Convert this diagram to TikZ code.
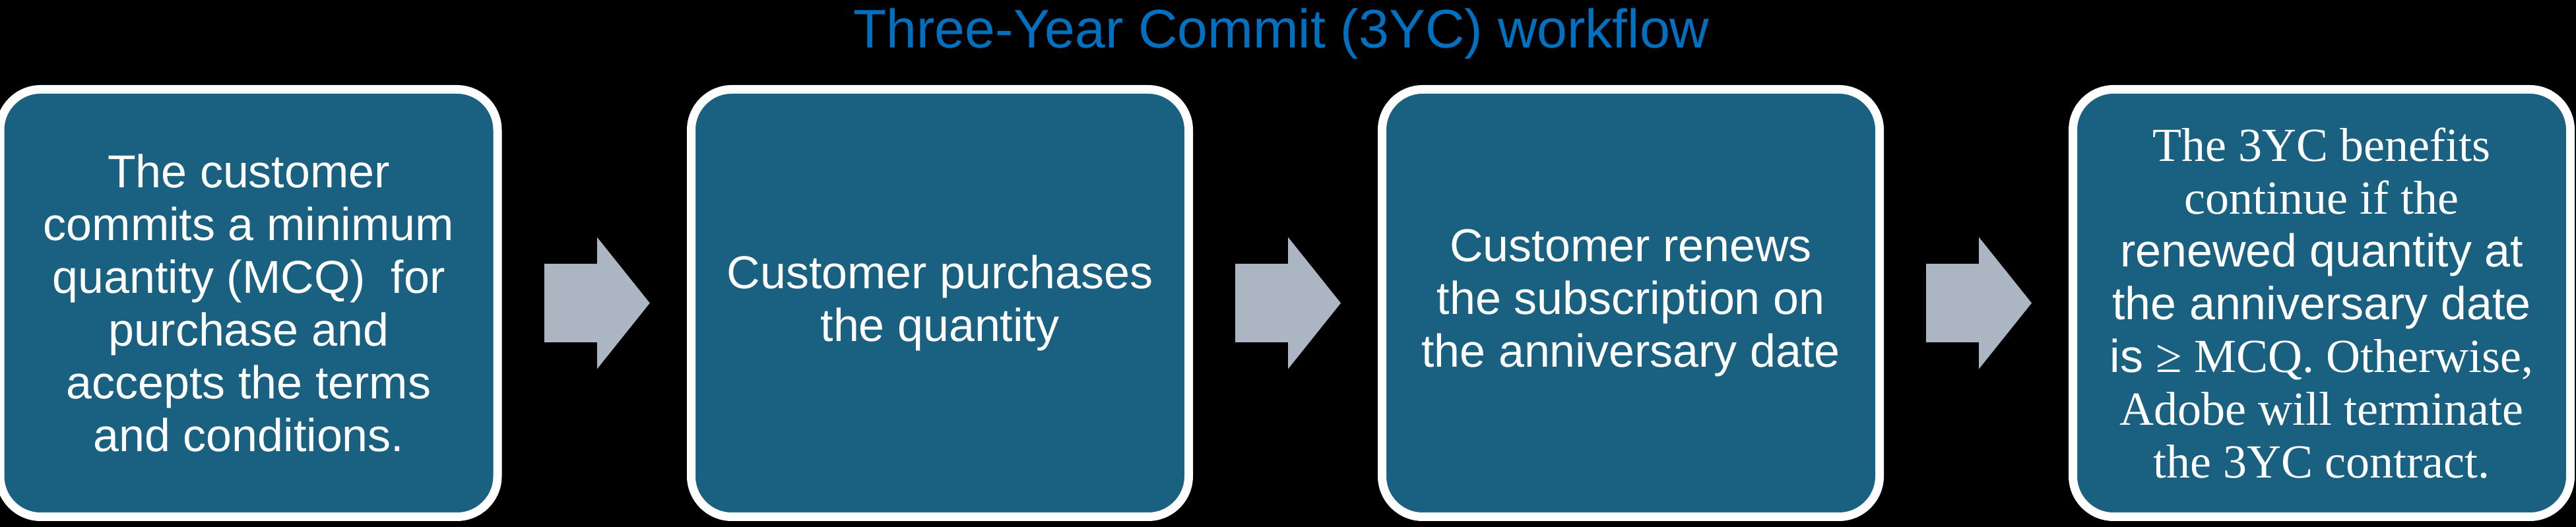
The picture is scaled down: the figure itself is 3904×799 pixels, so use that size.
\documentclass[tikz,border=0pt]{standalone}
\usepackage{fontspec}
\setmainfont{Liberation Sans}
\newfontfamily\seriffont{Liberation Serif}
\usetikzlibrary{calc}
\definecolor{boxteal}{RGB}{26,97,129}
\definecolor{arrowgray}{RGB}{172,182,194}
\definecolor{titleblue}{RGB}{0,112,192}
\tikzset{
  stepbox/.style={draw=white, line width=3.25pt, fill=boxteal, rounded corners=15.4pt,
    minimum width=188.5pt, minimum height=162pt, inner sep=0pt, text=white, align=center,
    font=\fontsize{17.5}{20}\selectfont},
  blockarrow/.style={fill=arrowgray},
  titletext/.style={text=titleblue, font=\fontsize{20.6}{23}\selectfont, inner sep=0pt}
}
\begin{document}
\begin{tikzpicture}[x=0.25pt,y=-0.25pt]
\fill[black] (0,0) rectangle (3904,799);
\useasboundingbox (0,0) rectangle (3904,799);

\node[titletext, anchor=base] (title) at (1942,73) {Three-Year Commit (3YC) workflow};

\node[stepbox] (b1) at (377,459.5) {The customer\\commits a minimum\\quantity (MCQ)\ \ for\\purchase and\\accepts the terms\\and conditions.};
\node[stepbox] (b2) at (1424.5,459.5) {Customer purchases\\the quantity};
\node[stepbox] (b3) at (2471.5,459.5) {Customer renews\\the subscription on\\the anniversary date};
\node[stepbox] (b4) at (3518.5,459.5) {{\seriffont\fontsize{18}{20}\selectfont The 3YC benefits}\\
  {\seriffont\fontsize{18}{20}\selectfont continue if the}\\
  renewed quantity at\\the anniversary date\\
  is {\seriffont\fontsize{18}{20}\selectfont ≥ MCQ. Otherwise,}\\
  {\seriffont\fontsize{18}{20}\selectfont Adobe will terminate}\\
  {\seriffont\fontsize{18}{20}\selectfont the 3YC contract.}};

\foreach \a/\b/\m in {b1/b2/m1, b2/b3/m2, b3/b4/m3}{
  \coordinate (\m) at ($(\a.east)!0.5!(\b.west)+(4,0)$);
  \fill[blockarrow] ([shift={(-80,-59.5)}]\m) -- ([shift={(0,-59.5)}]\m) -- ([shift={(0,-100)}]\m)
    -- ([shift={(80,0)}]\m) -- ([shift={(0,100)}]\m) -- ([shift={(0,59.5)}]\m)
    -- ([shift={(-80,59.5)}]\m) -- cycle;
}
\end{tikzpicture}
\end{document}
